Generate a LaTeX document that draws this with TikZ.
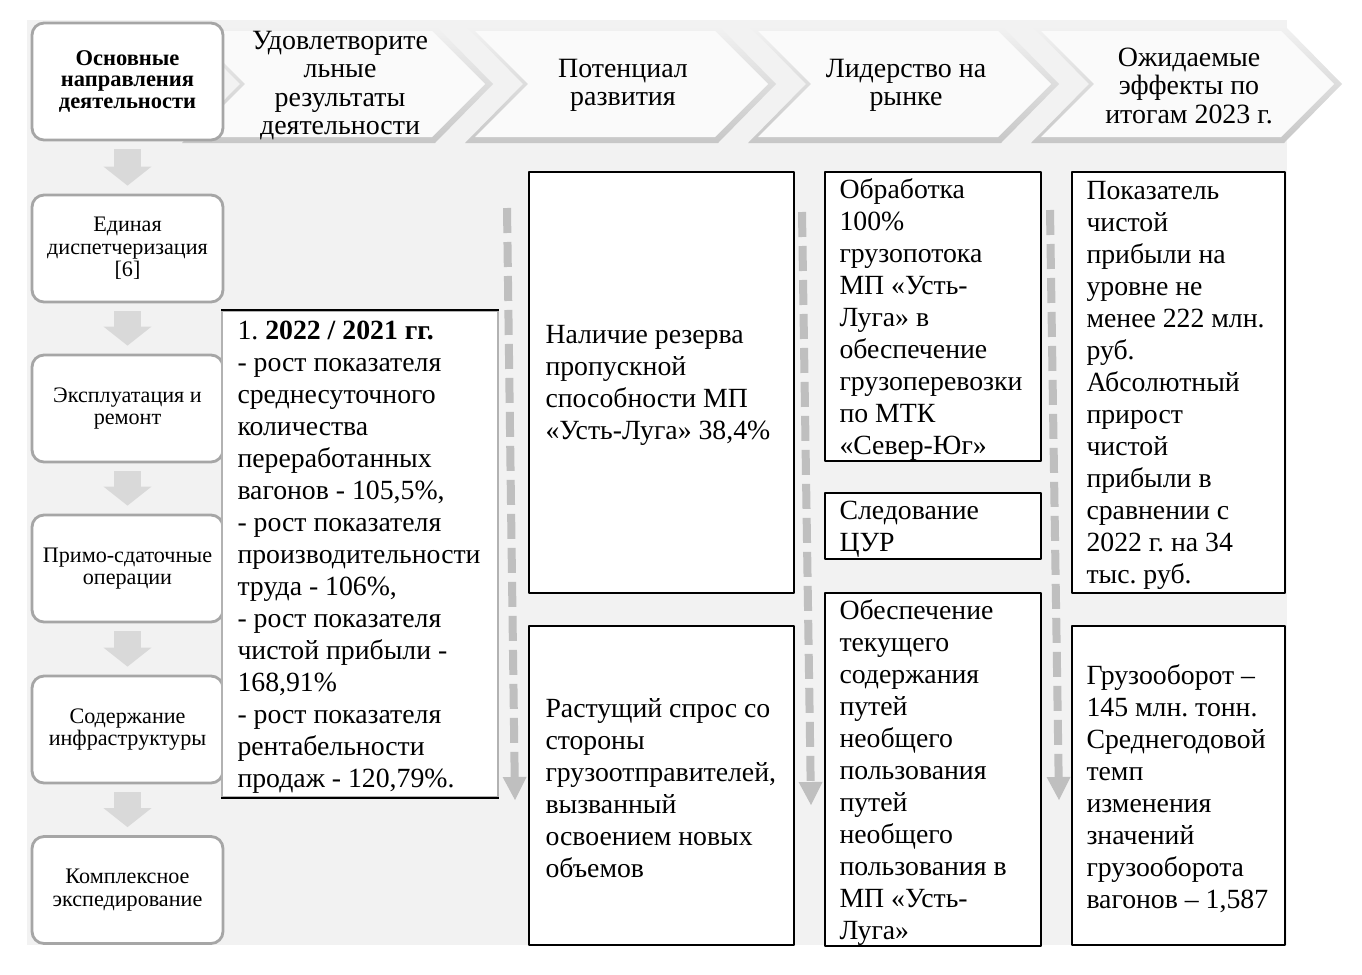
\documentclass[tikz,border=0pt]{standalone}
\usepackage{fontspec}
\setmainfont{Liberation Serif}
\usetikzlibrary{arrows.meta,positioning}
\newcommand{\bodysize}{\fontsize{15.8}{18.2}\selectfont}
\newcommand{\headsize}{\fontsize{15.9}{16.2}\selectfont}
\newcommand{\dirsize}{\fontsize{12.6}{12.8}\selectfont}
\tikzset{
  every picture/.style={line join=round, >=Stealth},
  dirbox/.style={draw=black!35, line width=1.6pt, fill=white, rounded corners=0.24cm, minimum width=3.82cm, minimum height=2.14cm, align=center, font=\dirsize, inner sep=0pt},
  textbox/.style={draw=black, line width=1pt, fill=white, inner sep=0pt},
  boxtext/.style={align=left, font=\bodysize, inner sep=0pt, yshift=-0.06cm},
  headtext/.style={align=center, font=\headsize, inner sep=0pt},
  downarrow/.style={draw=black!15, line width=0.54cm, -{Triangle[width=0.96cm,length=0.38cm,line width=0pt]}, shorten <=0.16cm, shorten >=0.16cm},
  dasharrow/.style={draw=black!25, line width=0.16cm, dash pattern=on 0.5cm off 0.18cm, -{Triangle[width=0.48cm,length=0.46cm,line width=0pt]}},
}
\begin{document}
\frenchspacing
\begin{tikzpicture}[x=0.02cm, y=-0.02cm]
\useasboundingbox (0,0) rectangle (1362,974);
\fill[black!5] (27,20) rectangle (1287,945);

% header chevrons
\foreach \l/\txt [count=\i] in {182/{Удовлетворите\\льные\\результаты\\деятельности}, 465/{Потенциал\\развития}, 748/{Лидерство на\\рынке}, 1031/{Ожидаемые\\эффекты по\\итогам 2023 г.}} {
  \shade[top color=black!5, bottom color=black!22] (\l,25) -- ++(253,0) -- ++(58,59) -- ++(-58,59) -- ++(-253,0) -- ++(58,-59) -- cycle;
  \fill[black!2] (\l+10,31) -- ++(240,0) -- ++(53,53) -- ++(-53,53) -- ++(-240,0) -- ++(53,-53) -- cycle;
  \node[headtext] (head\i) at (\l+158,85.5) {\txt};
}

% main directions
\node[dirbox, minimum height=2.34cm, font=\bfseries\fontsize{12.8}{12.5}\selectfont] (dir0) at (127.5,81.5) {Основные\\направления\\деятельности};
\node[dirbox] (dir1) at (127.5,248.5) {Единая\\диспетчеризация\\{[6]}};
\node[dirbox] (dir2) at (127.5,408.5) {Эксплуатация и\\ремонт};
\node[dirbox] (dir3) at (127.5,568.5) {Примо-сдаточные\\операции};
\node[dirbox] (dir4) at (127.5,729.5) {Содержание\\инфраструктуры};
\node[dirbox] (dir5) at (127.5,890) {Комплексное\\экспедирование};
\foreach \a/\b in {0/1,1/2,2/3,3/4,4/5}
  \draw[downarrow] (dir\a.south) -- (dir\b.north);

% results
\node[textbox, draw=black!30, minimum width=5.52cm, minimum height=9.72cm] (res) at (360,554) {};
\draw[line width=1pt] (res.north west) -- (res.north east) (res.south west) -- (res.south east);
\node[boxtext, right=0.32cm of res.west] (restext) {1. \textbf{2022 / 2021 гг.}\\- рост показателя\\среднесуточного\\количества\\переработанных\\вагонов - 105,5\%,\\- рост показателя\\производительности\\труда - 106\%,\\- рост показателя\\чистой прибыли -\\168,91\%\\- рост показателя\\рентабельности\\продаж - 120,79\%.};

% potential
\node[textbox, minimum width=5.30cm, minimum height=8.42cm] (potA) at (661.5,382.5) {};
\node[boxtext, right=0.34cm of potA.west] (potAtext) {Наличие резерва\\пропускной\\способности МП\\«Усть-Луга» 38,4\%};
\node[textbox, minimum width=5.30cm, minimum height=6.38cm] (potB) at (661.5,785.5) {};
\node[boxtext, right=0.34cm of potB.west] (potBtext) {Растущий спрос со\\стороны\\грузоотправителей,\\вызванный\\освоением новых\\объемов};

% leadership
\node[textbox, minimum width=4.32cm, minimum height=5.78cm] (leadA) at (933,316.5) {};
\node[boxtext, right=0.3cm of leadA.west] (leadAtext) {Обработка\\100\%\\грузопотока\\МП «Усть-\\Луга» в\\обеспечение\\грузоперевозки\\по МТК\\«Север-Юг»};
\node[textbox, minimum width=4.32cm, minimum height=1.32cm] (leadB) at (933,526) {};
\node[boxtext, right=0.3cm of leadB.west] (leadBtext) {Следование\\ЦУР};
\node[textbox, minimum width=4.32cm, minimum height=7.06cm] (leadC) at (933,769.5) {};
\node[boxtext, right=0.3cm of leadC.west] (leadCtext) {Обеспечение\\текущего\\содержания\\путей\\необщего\\пользования\\путей\\необщего\\пользования в\\МП «Усть-\\Луга»};

% effects
\node[textbox, minimum width=4.26cm, minimum height=8.42cm] (effA) at (1178.5,382.5) {};
\node[boxtext, right=0.3cm of effA.west] (effAtext) {Показатель\\чистой\\прибыли на\\уровне не\\менее 222 млн.\\руб.\\Абсолютный\\прирост\\чистой\\прибыли в\\сравнении с\\2022 г. на 34\\тыс. руб.};
\node[textbox, minimum width=4.26cm, minimum height=6.38cm] (effB) at (1178.5,785.5) {};
\node[boxtext, right=0.3cm of effB.west] (effBtext) {Грузооборот –\\145 млн. тонн.\\Среднегодовой\\темп\\изменения\\значений\\грузооборота\\вагонов – 1,587};

% dashed flow arrows
\coordinate (d1s) at (507,208); \coordinate (d1e) at (515,800);
\coordinate (d2s) at (802,212); \coordinate (d2e) at (811,805);
\coordinate (d3s) at (1050,210); \coordinate (d3e) at (1059,800);
\draw[dasharrow] (d1s) -- (d1e);
\draw[dasharrow] (d2s) -- (d2e);
\draw[dasharrow] (d3s) -- (d3e);
\end{tikzpicture}
\end{document}
